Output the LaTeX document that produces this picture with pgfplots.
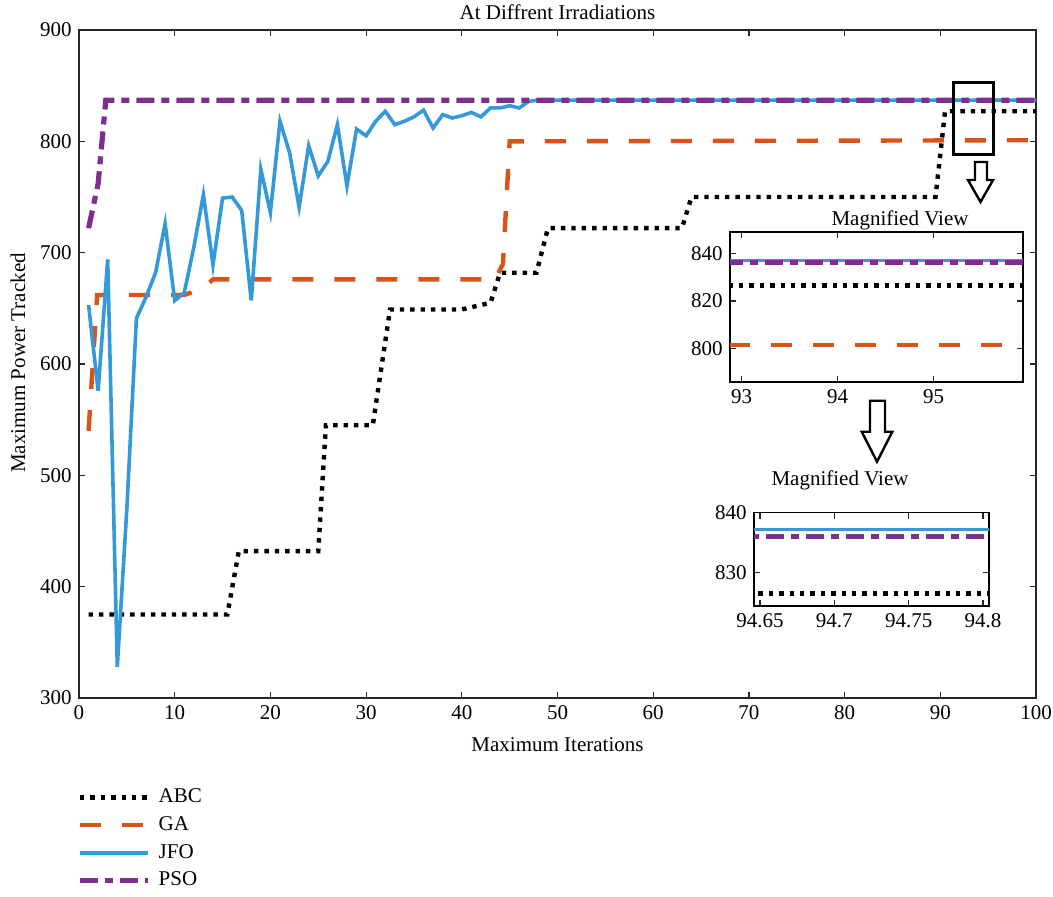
\documentclass[border=0pt]{standalone}
\usepackage{fontspec}
\setmainfont{Liberation Serif}
\usepackage{pgfplots}
\pgfplotsset{compat=1.18}
\pgfkeys{/pgf/number format/assume math mode=true}
\definecolor{gacol}{HTML}{D95319}
\definecolor{jfocol}{HTML}{3399D9}
\definecolor{psocol}{HTML}{7E2F8E}
\tikzset{
  abcs/.style={black, line width=2.2pt, dash pattern=on 2.2pt off 3pt},
  gas/.style={gacol, line width=2.2pt, dash pattern=on 10.5pt off 10.5pt},
  jfos/.style={jfocol, line width=1.8pt},
  psos/.style={psocol, line width=2.6pt, dash pattern=on 9pt off 3.5pt on 4pt off 3.5pt},
}
\pgfplotsset{
  every axis/.append style={
    font=\fontsize{10.5}{12.6}\selectfont,
    /pgf/number format/assume math mode=true,
    tick align=inside,
    scale only axis,
    axis line style={line width=0.8pt, black!85},
    major tick style={line width=0.6pt, black!85},
    major tick length=3pt,
    anchor=south west,
  },
}
\begin{document}
\fontsize{10.5}{12.6}\selectfont
\begin{tikzpicture}[font=\fontsize{10.5}{12.6}\selectfont]
\useasboundingbox (-39.5pt,-99pt) rectangle (487pt,349pt);
\begin{axis}[
  at={(0pt,0pt)},
  width=478.5pt, height=334pt,
  xmin=0, xmax=100, ymin=300, ymax=900,
  xtick={0,10,...,100}, ytick={300,400,...,900},
  xlabel={Maximum Iterations},
  xlabel style={at={(axis description cs:0.5,-0.0808)}, anchor=base, inner sep=0pt},
  ylabel={Maximum Power Tracked},
  ylabel style={at={(axis description cs:-0.0564,0.5015)}, anchor=base, inner sep=0pt},
  legend image code/.code={\draw[#1] (0pt,0pt) -- (34pt,0pt);},
  legend style={at={(axis description cs:-0.002,-0.1275)}, anchor=north west, draw=none, fill=none, inner sep=0pt, row sep=0pt,
    nodes={inner sep=0pt, minimum height=13.85pt},
    /tikz/every odd column/.append style={column sep=4pt}},
  legend cell align=left,
]
\addplot[abcs] coordinates {(1,375)(15.5,375)(16.7,432)(25,432)(25.8,545)(30.7,545)(32.5,649)(40,649)(43,655)(44,682)(47.8,682)(49,722)(63,722)(64,750)(89.5,750)(90.5,827)(100,827)};
\addplot[gas] coordinates {(1,540)(1.9,662)(11,662)(13,668)(14,676)(43.5,676)(44.3,690)(45,800)(100,801)};
\addplot[jfos] coordinates {(1,653)(2,576)(3,694)(4,328)(5,470)(6,641)(7,660)(8,682)(9,726)(10,657)(11,664)(12,705)(13,752)(14,689)(15,749)(16,750)(17,738)(18,657)(19,775)(20,736)(21,818)(22,790)(23,741)(24,796)(25,769)(26,782)(27,815)(28,760)(29,811)(30,805)(31,818)(32,827)(33,815)(34,818)(35,822)(36,828)(37,812)(38,824)(39,821)(40,823)(41,826)(42,822)(43,830)(44,830)(45,832)(46,830)(47,836)(48,837)(100,837)};
\addplot[psos] coordinates {(1,722)(2,762)(2.8,837)(100,837)};
\legend{ABC,GA,JFO,PSO}
\draw[black, line width=1.5pt] (axis cs:91.4,788) rectangle (axis cs:95.6,853);
\end{axis}
\node[anchor=base, inner sep=0pt] at (239.25pt,339pt) {At Diffrent Irradiations};
% hollow arrows
\draw[black, line width=1.2pt, fill=white, line join=miter] (448pt,268pt) -- (454pt,268pt) -- (454pt,259pt) -- (457pt,259pt) -- (450.75pt,248pt) -- (444.5pt,259pt) -- (448pt,259pt) -- cycle;
\draw[black, line width=1.2pt, fill=white, line join=miter] (395.5pt,148.65pt) -- (403pt,148.65pt) -- (403pt,133.15pt) -- (406.65pt,133.15pt) -- (399pt,118.15pt) -- (391.35pt,133.15pt) -- (395.5pt,133.15pt) -- cycle;
% inset 1
\begin{axis}[
  at={(325.5pt,158pt)},
  width=146.5pt, height=75pt,
  xmin=92.88, xmax=95.93, ymin=786, ymax=849,
  xtick={93,94,95}, ytick={800,820,840},
  axis background/.style={fill=white},
  axis line style={line width=0.8pt, black},
]
\addplot[abcs] coordinates {(92,826.5)(97,826.5)};
\addplot[gas] coordinates {(92,801.5)(97,801.5)};
\addplot[jfos] coordinates {(92,837)(97,837)};
\addplot[psos] coordinates {(92,836.3)(97,836.3)};
\end{axis}
\node[anchor=base, inner sep=0pt] at (410.5pt,236.5pt) {Magnified View};
% inset 2
\begin{axis}[
  at={(337.5pt,46pt)},
  width=117.5pt, height=46.7pt,
  xmin=94.646, xmax=94.804, ymin=824.5, ymax=840,
  xtick={94.65,94.7,94.75,94.8}, xticklabels={94.65,94.7,94.75,94.8},
  ytick={830,840},
  axis background/.style={fill=white},
  axis line style={line width=0.8pt, black},
]
\addplot[abcs] coordinates {(94.6,826.6)(94.9,826.6)};
\addplot[jfos] coordinates {(94.6,837.2)(94.9,837.2)};
\addplot[psos] coordinates {(94.6,836.1)(94.9,836.1)};
\end{axis}
\node[anchor=base, inner sep=0pt] at (380.5pt,106.5pt) {Magnified View};
\end{tikzpicture}
\end{document}
